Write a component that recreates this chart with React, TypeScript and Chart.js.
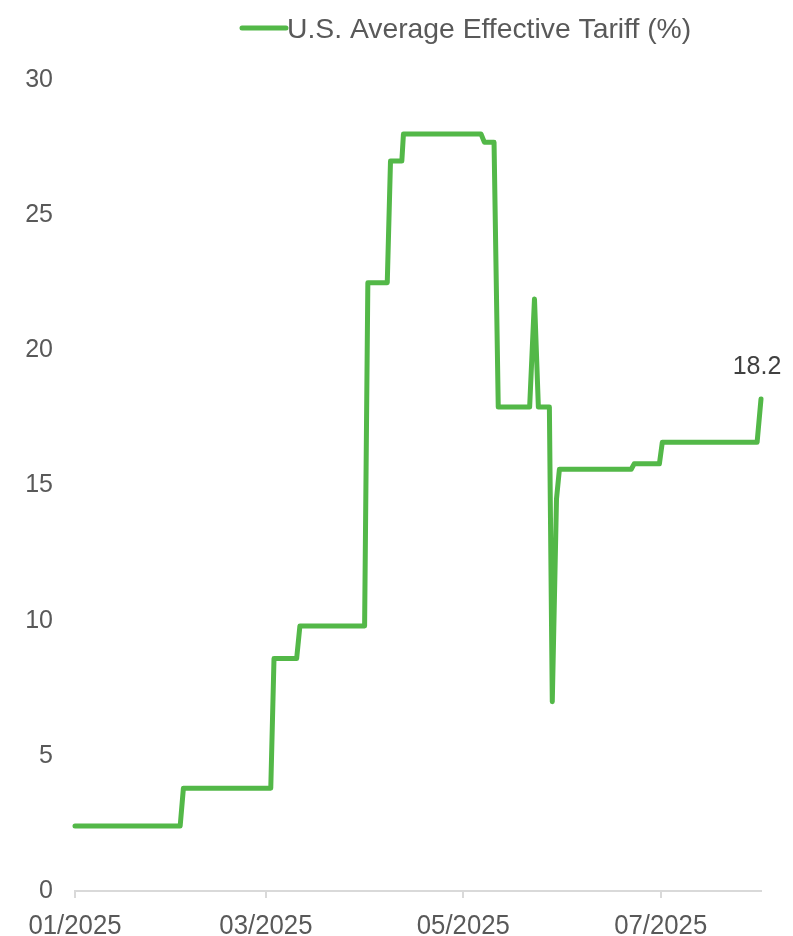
import React, { useEffect, useRef } from "react";
import { Chart, registerables } from "chart.js";

Chart.register(...registerables);

// Day offsets from 1 Jan 2025 and the effective tariff rate (%) at each step.
const days = [
  0, 32.5, 33.5, 60.5, 61.5, 68.5, 69.5, 89.5, 90.5, 96.5, 97.5, 101, 101.5,
  125.5, 126.5, 129.5, 130.8, 140.5, 142, 143.2, 146.6, 147.5, 148.8, 149.7,
  171.9, 172.8, 180.6, 181.5, 210.8, 212,
];
const tariff = [
  2.4, 2.4, 3.8, 3.8, 8.6, 8.6, 9.8, 9.8, 22.5, 22.5, 27.0, 27.0, 28.0, 28.0,
  27.7, 27.7, 17.9, 17.9, 21.9, 17.9, 17.9, 7.0, 14.5, 15.6, 15.6, 15.8, 15.8,
  16.6, 16.6, 18.2,
];

// Month tick positions (day offsets) and their labels.
const tickDays = [0, 59, 120, 181];
const tickLabels = ["01/2025", "03/2025", "05/2025", "07/2025"];

const seriesLabel = "U.S. Average Effective Tariff (%)";
const lastLabel = "18.2";

const GREEN = "#53b848";
const TEXT = "#595959";

const legendPlugin = {
  id: "topLegend",
  afterDraw(chart: any) {
    const ctx = chart.ctx;
    ctx.save();
    const lineX0 = 242;
    const lineX1 = 286;
    const y = 28;
    ctx.strokeStyle = GREEN;
    ctx.lineWidth = 5;
    ctx.lineCap = "round";
    ctx.beginPath();
    ctx.moveTo(lineX0, y);
    ctx.lineTo(lineX1, y);
    ctx.stroke();
    ctx.font = '28.3px "Liberation Sans", Arial, sans-serif';
    ctx.fillStyle = TEXT;
    ctx.textBaseline = "middle";
    ctx.textAlign = "left";
    ctx.fillText(seriesLabel, lineX1 + 1, y + 2);
    ctx.restore();
  },
};

// Month labels are drawn in a slightly condensed face under each tick.
const monthLabelPlugin = {
  id: "monthLabels",
  afterDraw(chart: any) {
    const xs = chart.scales.x;
    const ctx = chart.ctx;
    const squeeze = 0.92;
    ctx.save();
    ctx.font = '28px "Liberation Sans", Arial, sans-serif';
    ctx.fillStyle = TEXT;
    ctx.textAlign = "center";
    ctx.textBaseline = "middle";
    const y = xs.top + 35;
    tickDays.forEach((d, i) => {
      const px = xs.getPixelForValue(d);
      ctx.save();
      ctx.translate(px, y);
      ctx.scale(squeeze, 1);
      ctx.fillText(tickLabels[i], 0, 0);
      ctx.restore();
    });
    ctx.restore();
  },
};

const endLabelPlugin = {
  id: "endLabel",
  afterDatasetsDraw(chart: any) {
    const meta = chart.getDatasetMeta(0);
    const pt = meta.data[meta.data.length - 1];
    if (!pt) return;
    const ctx = chart.ctx;
    ctx.save();
    ctx.font = '25px "Liberation Sans", Arial, sans-serif';
    ctx.fillStyle = "#404040";
    ctx.textAlign = "center";
    ctx.textBaseline = "middle";
    ctx.fillText(lastLabel, pt.x - 4, pt.y - 32);
    ctx.restore();
  },
};

export default function App() {
  const canvasRef = useRef<HTMLCanvasElement | null>(null);

  useEffect(() => {
    if (!canvasRef.current) return;
    const data = days.map((d, i) => ({ x: d, y: tariff[i] }));
    const chart = new Chart(canvasRef.current, {
      type: "line",
      data: {
        datasets: [
          {
            label: seriesLabel,
            data,
            borderColor: GREEN,
            backgroundColor: GREEN,
            borderWidth: 5,
            borderJoinStyle: "round",
            borderCapStyle: "round",
            pointRadius: 0,
            tension: 0,
            fill: false,
            clip: false,
          },
        ],
      },
      options: {
        responsive: false,
        animation: false,
        layout: { padding: { top: 80, right: 32, left: 0, bottom: 0 } },
        plugins: {
          legend: { display: false },
          tooltip: { enabled: false },
        },
        scales: {
          x: {
            type: "linear",
            min: 0,
            max: 212,
            afterBuildTicks: (scale: any) => {
              scale.ticks = tickDays.map((v) => ({ value: v }));
            },
            afterFit: (scale: any) => {
              scale.height = 45;
            },
            ticks: {
              display: false,
              autoSkip: false,
              maxRotation: 0,
            },
            grid: {
              display: true,
              drawOnChartArea: false,
              drawTicks: true,
              tickLength: 7,
              color: "#d9d9d9",
              lineWidth: 2,
            },
            border: { display: true, color: "#d9d9d9", width: 2 },
          },
          y: {
            min: 0,
            max: 30,
            afterFit: (scale: any) => {
              scale.width = 75;
            },
            ticks: {
              stepSize: 5,
              padding: 22,
              color: TEXT,
              font: { family: '"Liberation Sans", Arial', size: 25 },
            },
            grid: { display: false, drawTicks: false },
            border: { display: false },
          },
        },
      },
      plugins: [legendPlugin, monthLabelPlugin, endLabelPlugin],
    });
    return () => chart.destroy();
  }, []);

  return (
    <div style={{ position: "absolute", left: 0, top: 0, width: 793, height: 936, background: "#fff" }}>
      <canvas ref={canvasRef} width={793} height={936} style={{ width: 793, height: 936 }} />
    </div>
  );
}
